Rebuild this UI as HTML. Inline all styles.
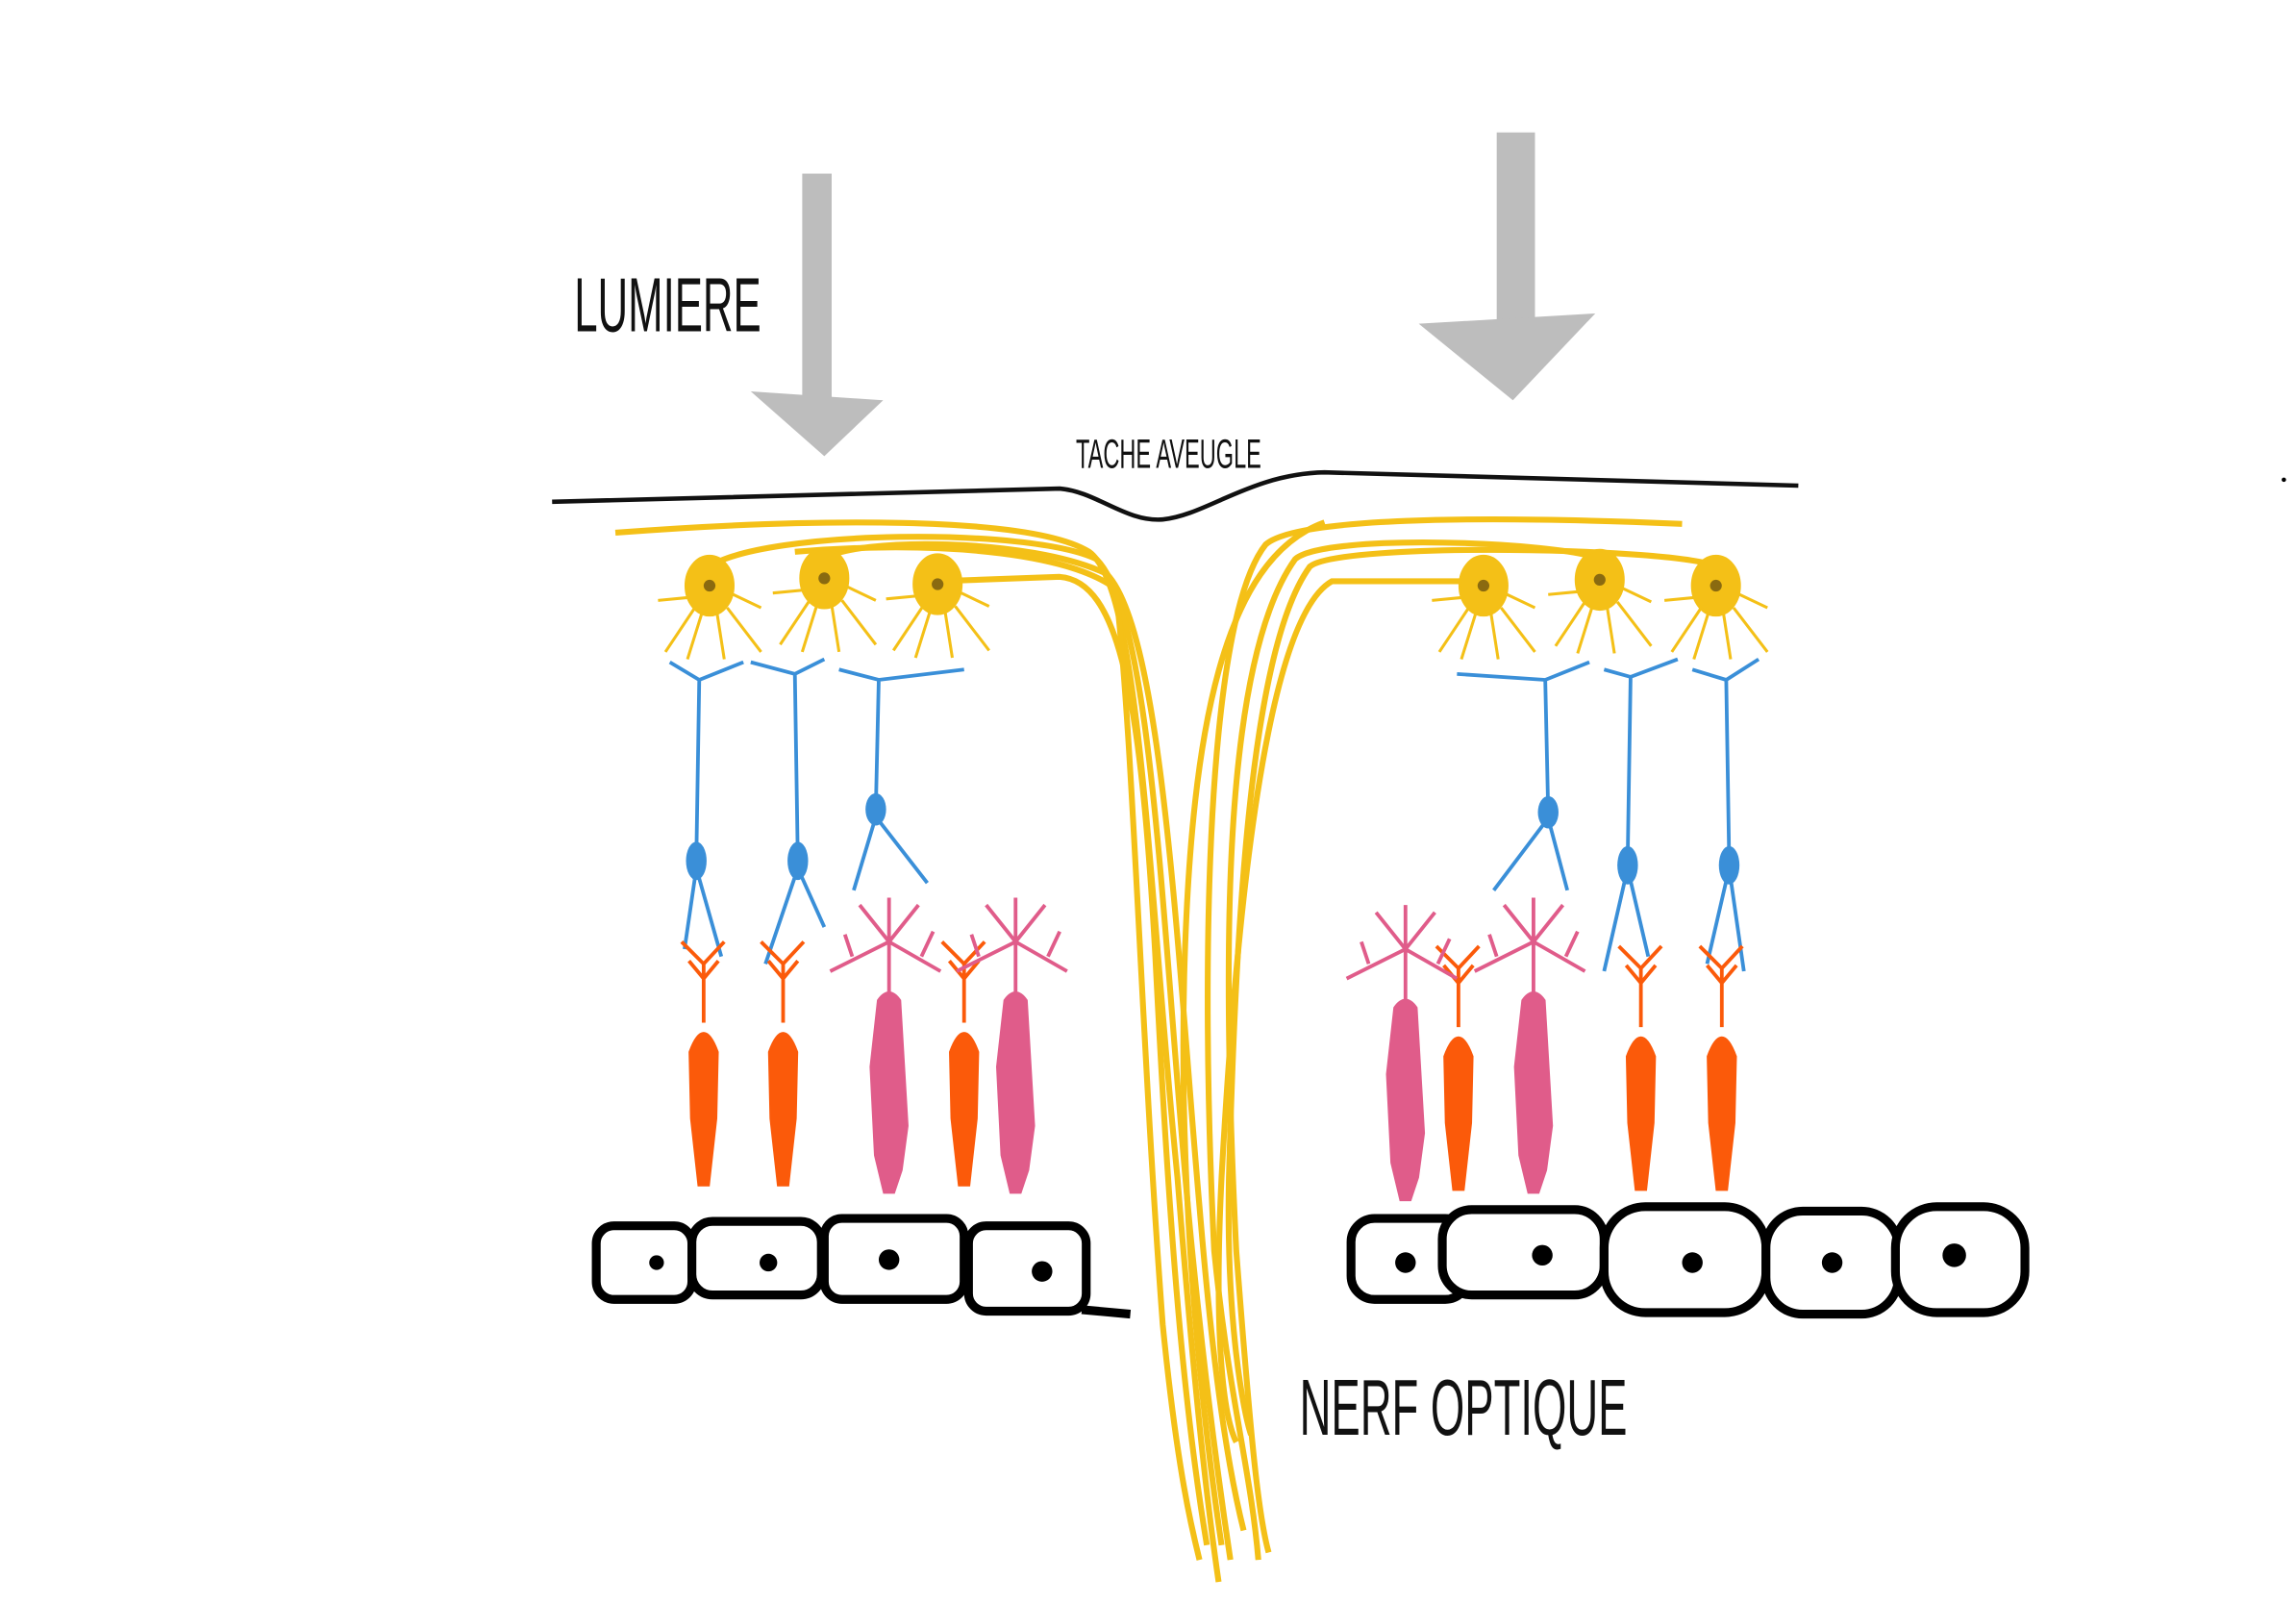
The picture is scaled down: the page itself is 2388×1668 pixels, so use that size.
<!DOCTYPE html>
<html><head><meta charset="utf-8"><style>
html,body{margin:0;padding:0;background:#fff;}
svg{display:block;}
text{font-family:"Liberation Sans",sans-serif;fill:#111;}
</style></head><body>
<svg width="2388" height="1668" viewBox="0 0 1560 1090" xmlns="http://www.w3.org/2000/svg">
<defs>
<g id="gc"><ellipse cx="0" cy="0" rx="16" ry="20"/><circle cx="0" cy="0" r="4" fill="#8a6a10" stroke="none"/>
<path d="M-10 15 L-30 45 M-5 18 L-15 50 M5 18 L10 50 M12 15 L35 45 M-14 8 L-35 10 M14 5 L35 15" fill="none"/></g>
<g id="cone"><path d="M0 0 L0 -40 M0 -40 L-15 -55 M0 -40 L14 -55 M0 -30 L-10 -42 M0 -30 L10 -42" fill="none"/><path d="M-9 20 Q0 -5 9 20 L8 65 L3 110 L-3 110 L-8 65 Z"/></g>
<g id="rod"><path d="M0 0 L0 -35 L-40 -15 M0 -35 L35 -15 M0 -35 L-20 -60 M0 -35 L20 -60 M0 -35 L0 -65 M-25 -25 L-30 -40 M22 -25 L30 -42" fill="none"/><path d="M-7 5 Q0 -5 7 5 L12 90 L8 120 L3 135 L-3 135 L-9 110 L-12 50 Z"/></g>
</defs>
<rect width="1560" height="1090" fill="#fff"/>
<text x="0" y="0" font-size="52" transform="translate(390 225) scale(0.55 1)">LUMIERE</text>
<text x="0" y="0" font-size="28" transform="translate(731 318) scale(0.55 1)">TACHE AVEUGLE</text>
<text x="0" y="0" font-size="54" transform="translate(883 975) scale(0.55 1)">NERF OPTIQUE</text>
<g fill="#bdbdbd">
<rect x="545" y="118" width="20" height="160"/>
<path d="M510 266 L600 272 L560 310 Z"/>
<rect x="1017" y="90" width="26" height="135"/>
<path d="M964 220 L1084 213 L1028 272 Z"/>
</g>
<path d="M375 341 L720 332 C745 334 765 355 790 353 C820 350 850 322 900 321 L1222 330" fill="none" stroke="#111" stroke-width="3"/>
<g fill="none" stroke="#f4c017" stroke-width="4">
<path d="M418 362 C550 352 700 350 740 375 C775 400 780 600 800 800 C812 950 820 1020 828 1075"/>
<path d="M482 385 C520 360 700 358 745 380 C785 420 790 650 810 850 C820 950 830 1020 836 1060"/>
<path d="M560 380 C580 365 700 365 752 390 C790 430 800 650 815 820 C825 940 835 1000 845 1040"/>
<path d="M637 395 L720 392 C760 395 775 470 785 650 C795 850 805 960 820 1050"/>
<path d="M540 375 C620 368 720 372 758 400 C770 500 775 700 790 900 C800 1000 810 1040 815 1060"/>
<path d="M1143 356 C1000 350 880 352 860 370 C820 420 815 650 825 850 C835 950 850 1000 855 1060"/>
<path d="M1087 380 C1060 368 900 362 880 380 C830 450 830 650 840 850 C850 980 855 1030 862 1055"/>
<path d="M1166 385 C1140 372 910 368 890 385 C850 440 840 620 835 800 C833 900 845 960 850 975"/>
<path d="M1008 395 L905 395 C860 420 840 620 830 800 C825 900 830 960 840 980"/>
<path d="M900 355 C830 380 810 500 805 650 C800 800 815 950 830 1050"/>
</g>
<g fill="#f4c017" stroke="#f4c017" stroke-width="2">
<use href="#gc" x="482" y="398"/><use href="#gc" x="560" y="393"/><use href="#gc" x="637" y="397"/>
<use href="#gc" x="1008" y="398"/><use href="#gc" x="1087" y="394"/><use href="#gc" x="1166" y="398"/>
</g>
<g fill="none" stroke="#3a8fd8" stroke-width="2.5">
<path d="M455 450 L475 462 L505 450 M475 462 L473 585 M473 590 L465 645 M473 590 L490 650"/>
<path d="M510 450 L540 458 L560 448 M540 458 L542 585 M542 590 L520 655 M542 590 L560 630"/>
<path d="M570 455 L597 462 L655 455 M597 462 L595 550 M595 555 L580 605 M595 555 L630 600"/>
<path d="M990 458 L1050 462 L1080 450 M1050 462 L1052 552 M1052 556 L1015 605 M1052 556 L1065 605"/>
<path d="M1090 455 L1108 460 L1140 448 M1108 460 L1106 585 M1106 590 L1090 660 M1106 590 L1120 650"/>
<path d="M1150 455 L1173 462 L1195 448 M1173 462 L1175 585 M1175 590 L1160 655 M1175 590 L1185 660"/>
</g>
<g fill="#3a8fd8">
<ellipse cx="473" cy="585" rx="7" ry="13"/><ellipse cx="542" cy="585" rx="7" ry="13"/><ellipse cx="595" cy="550" rx="7" ry="11"/>
<ellipse cx="1052" cy="552" rx="7" ry="11"/><ellipse cx="1106" cy="588" rx="7" ry="13"/><ellipse cx="1175" cy="588" rx="7" ry="13"/>
</g>
<g fill="#fb5a0a" stroke="#fb5a0a" stroke-width="2.5">
<use href="#cone" x="478" y="695"/><use href="#cone" x="532" y="695"/><use href="#cone" x="655" y="695"/>
<use href="#cone" x="991" y="698"/><use href="#cone" x="1115" y="698"/><use href="#cone" x="1170" y="698"/>
</g>
<g fill="#e05c8a" stroke="#e05c8a" stroke-width="2.5">
<use href="#rod" x="604" y="675"/><use href="#rod" x="690" y="675"/>
<use href="#rod" x="955" y="680"/><use href="#rod" x="1042" y="675"/>
</g>
<g fill="#fff" stroke="#000" stroke-width="6">
<rect x="405" y="833" width="65" height="50" rx="12"/>
<rect x="470" y="830" width="88" height="50" rx="14"/>
<rect x="560" y="828" width="95" height="55" rx="12"/>
<rect x="658" y="833" width="80" height="58" rx="12"/>
<path d="M735 890 L768 893" fill="none"/>
<rect x="918" y="828" width="80" height="55" rx="16"/>
<rect x="980" y="822" width="110" height="58" rx="20"/>
<rect x="1090" y="820" width="110" height="72" rx="28"/>
<rect x="1200" y="823" width="90" height="70" rx="25"/>
<rect x="1288" y="820" width="88" height="72" rx="28"/>
</g>
<g fill="#000">
<circle cx="446" cy="858" r="5"/><circle cx="522" cy="858" r="6"/><circle cx="604" cy="856" r="7"/><circle cx="708" cy="864" r="7"/>
<circle cx="955" cy="858" r="7"/><circle cx="1048" cy="853" r="7"/><circle cx="1150" cy="858" r="7"/><circle cx="1245" cy="858" r="7"/><circle cx="1328" cy="853" r="8"/>
<circle cx="1552" cy="326" r="1.5"/>
</g>
</svg>
</body></html>
